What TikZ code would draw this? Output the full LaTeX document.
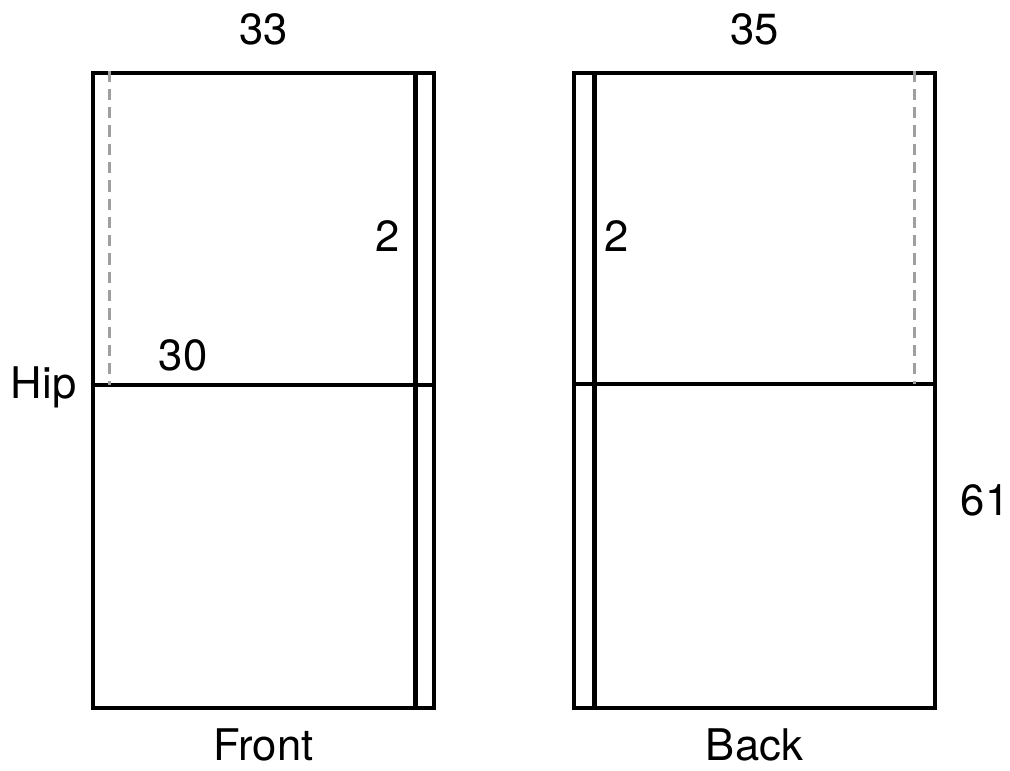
\documentclass[tikz,border=0pt]{standalone}
\usepackage{fontspec}
\setmainfont{TeX Gyre Heros}
\usepackage{tikz}
\usetikzlibrary{positioning,calc}
\tikzset{
  panel/.style={draw, line width=3.4pt},
  seam/.style={line width=3.4pt},
  foldline/.style={gray!75, line width=2.4pt, dash pattern=on 8pt off 5pt},
  lab/.style={font=\fontsize{31}{34}\selectfont, inner sep=1pt},
}

\begin{document}
\begin{tikzpicture}[x=0.025cm, y=-0.025cm]
\useasboundingbox (0,0) rectangle (1010,770);

% front
\node[panel, minimum width=341*0.025cm, minimum height=635*0.025cm, inner sep=0pt] (fr) at (263.5,390.5) {};
\coordinate (fhipL) at (fr.west |- 0,385);
\coordinate (fhipR) at (fr.east |- 0,385);
\draw[seam] (fhipL) -- (fhipR);
\draw[seam] ($(fr.north east)+(-21,0)$) -- ($(fr.south east)+(-21,0)$);
\draw[foldline] ($(fr.north west)+(19,0)$) -- ($(fhipL)+(19,0)$);

% back
\node[panel, minimum width=361*0.025cm, minimum height=635*0.025cm, inner sep=0pt] (bk) at (754.5,390.5) {};
\coordinate (bhipL) at (bk.west |- 0,384);
\coordinate (bhipR) at (bk.east |- 0,384);
\draw[seam] (bhipL) -- (bhipR);
\draw[seam] ($(bk.north west)+(23,0)$) -- ($(bk.south west)+(23,0)$);
\draw[foldline] ($(bk.north east)+(-23,0)$) -- ($(bhipR)+(-23,0)$);

% labels
\node[lab, above=17pt of fr.north] (fw) {33};
\node[lab, above=17pt of bk.north] (bw) {35};
\node[lab, below=12pt of fr.south] (fname) {Front};
\node[lab, below=12pt of bk.south] (bname) {Back};
\node[lab, left=9pt of fhipL, yshift=-2pt] (hip) {Hip};
\node[lab] (fhw) at (183,355) {30};
\node[lab] (fext) at (388,236) {2};
\node[lab] (bext) at (617,236) {2};
\node[lab] (len) at (985,500) {61};
\end{tikzpicture}
\end{document}
